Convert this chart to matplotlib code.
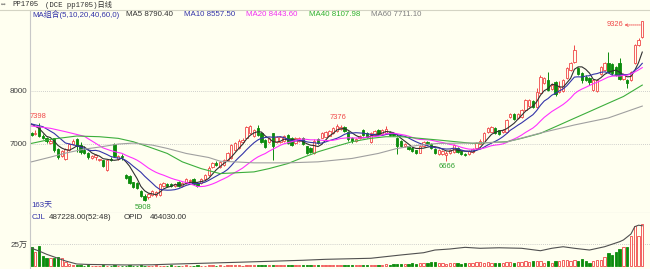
import numpy as np
import pandas as pd
import matplotlib
matplotlib.use("Agg")
import matplotlib.pyplot as plt
from matplotlib.lines import Line2D

plt.rcParams['font.family'] = ['Liberation Sans', 'Noto Sans CJK SC', 'DejaVu Sans']

# daily OHLC, pp1705
open_ = [7200, 7180, 7310, 7150, 7100, 7020, 7100, 6900, 6760, 6720,
         6880, 6990, 7080, 6980, 6880, 6830, 6730, 6740, 6690, 6690,
         6510, 6720, 6990, 6720, 6770, 6400, 6390, 6270, 6260, 6110,
         6020, 5990, 6030, 6030, 6030, 6200, 6240, 6230, 6200, 6270,
         6200, 6250, 6290, 6340, 6250, 6250, 6330, 6400, 6560, 6640,
         6560, 6600, 6690, 6730, 6890, 6920, 7030, 7110, 7200, 7150,
         7300, 7200, 7070, 7040, 7200, 7030, 7040, 7060, 7160, 7100,
         7020, 7060, 7100, 6950, 6920, 6830, 7080, 7110, 7130, 7150,
         7200, 7240, 7280, 7310, 7230, 7100, 7060, 7100, 7250, 7200,
         7040, 7160, 7260, 7180, 7210, 7230, 7200, 7100, 7060, 6960,
         6950, 6920, 6880, 6830, 6960, 7040, 7000, 6900, 6800, 6800,
         6790, 6820, 6850, 6920, 6860, 6810, 6810, 6840, 6920, 7000,
         7030, 7220, 7230, 7290, 7250, 7220, 7220, 7500, 7560, 7490,
         7510, 7640, 7720, 7800, 7700, 7960, 8150, 8200, 8030, 8170,
         7980, 7990, 8250, 8400, 8550, 8430, 8340, 8270, 8240, 8020,
         7990, 8310, 8400, 8530, 8500, 8450, 8520, 8230, 8200, 8210,
         8530, 8870, 9010]
close = [7170, 7210, 7150, 7110, 7050, 7060, 6880, 6740, 6860, 6900,
         7000, 7060, 6960, 6840, 6830, 6740, 6760, 6790, 6710, 6580,
         6690, 6690, 6760, 6760, 6740, 6360, 6260, 6180, 6160, 6010,
         5940, 6040, 6110, 6080, 6240, 6250, 6200, 6200, 6240, 6200,
         6250, 6340, 6320, 6230, 6200, 6340, 6400, 6550, 6640, 6600,
         6650, 6690, 6820, 6970, 7020, 7060, 7070, 7310, 7330, 7250,
         7170, 7040, 6940, 7100, 6950, 7120, 7120, 7140, 7020, 6980,
         7100, 7100, 6990, 6830, 6840, 7060, 7010, 7200, 7220, 7240,
         7300, 7330, 7320, 7240, 7080, 7060, 7090, 7150, 7170, 7120,
         7200, 7240, 7180, 7260, 7270, 7170, 7160, 6950, 6960, 7000,
         6900, 6860, 6830, 6960, 7030, 6990, 6920, 6820, 6880, 6870,
         6830, 6880, 6970, 6850, 6800, 6790, 6870, 6900, 7010, 7060,
         7200, 7300, 7310, 7200, 7190, 7260, 7450, 7560, 7470, 7560,
         7640, 7830, 7820, 7700, 7980, 8260, 8250, 8020, 8100, 7930,
         8080, 8210, 8430, 8530, 8780, 8310, 8210, 8200, 8170, 8200,
         8210, 8450, 8520, 8360, 8330, 8300, 8230, 8310, 8150, 8360,
         8870, 8960, 9320]
high = [7230, 7250, 7398, 7180, 7130, 7090, 7110, 6920, 6880, 6920,
        7020, 7080, 7110, 7030, 6950, 6850, 6780, 6800, 6720, 6700,
        6700, 6740, 7010, 6780, 6800, 6420, 6410, 6280, 6280, 6120,
        6040, 6060, 6130, 6100, 6260, 6280, 6260, 6250, 6260, 6290,
        6270, 6360, 6340, 6360, 6270, 6360, 6420, 6570, 6660, 6680,
        6670, 6710, 6840, 6990, 7040, 7080, 7100, 7330, 7350, 7280,
        7360, 7220, 7090, 7120, 7210, 7140, 7140, 7160, 7180, 7120,
        7120, 7130, 7120, 6960, 6940, 7080, 7100, 7220, 7240, 7260,
        7320, 7376, 7350, 7330, 7240, 7120, 7110, 7170, 7270, 7220,
        7220, 7250, 7280, 7280, 7340, 7240, 7220, 7120, 7070, 7020,
        6960, 6930, 6890, 6980, 7050, 7060, 7020, 6920, 6900, 6890,
        6860, 6900, 6990, 6940, 6870, 6830, 6890, 6920, 7030, 7080,
        7220, 7320, 7330, 7310, 7260, 7280, 7470, 7580, 7580, 7580,
        7660, 7850, 7840, 7820, 8060, 8300, 8270, 8350, 8150, 8190,
        8180, 8230, 8450, 8550, 8870, 8450, 8360, 8290, 8260, 8230,
        8230, 8470, 8540, 8740, 8520, 8470, 8620, 8330, 8220, 8380,
        8890, 8990, 9326]
low = [7150, 7160, 7130, 7080, 7020, 7000, 6850, 6720, 6740, 6690,
       6860, 6970, 6840, 6800, 6800, 6720, 6710, 6700, 6670, 6560,
       6490, 6680, 6740, 6700, 6700, 6340, 6240, 6160, 6140, 5990,
       5908, 5960, 6010, 6000, 6010, 6180, 6180, 6180, 6190, 6180,
       6190, 6240, 6280, 6210, 6180, 6240, 6310, 6390, 6540, 6580,
       6540, 6580, 6680, 6720, 6870, 6900, 7010, 7100, 7180, 7130,
       7150, 7020, 6920, 7020, 6690, 7010, 7020, 7040, 7000, 6960,
       7000, 7040, 6970, 6810, 6820, 6810, 6990, 7100, 7120, 7140,
       7190, 7230, 7260, 7220, 7060, 7020, 7040, 7090, 7150, 7100,
       7020, 7140, 7160, 7160, 7200, 7150, 7140, 6800, 6940, 6940,
       6880, 6840, 6810, 6820, 6940, 6980, 6900, 6800, 6780, 6780,
       6666, 6800, 6830, 6830, 6780, 6770, 6790, 6830, 6900, 6990,
       7010, 7200, 7220, 7180, 7170, 7200, 7210, 7480, 7450, 7470,
       7490, 7620, 7700, 7680, 7680, 7950, 8130, 7990, 8010, 7900,
       7960, 7970, 8230, 8380, 8530, 8290, 8150, 8180, 8100, 8000,
       7970, 8290, 8380, 8340, 8300, 8280, 8210, 8210, 8060, 8190,
       8510, 8850, 8990]

# volume (CJL), thousands
volume_k = [222, 158, 227, 115, 89, 95, 92, 105, 95, 50, 23, 15,
            8, 6, 5, 6, 4, 5, 4, 6, 5, 4, 6, 5, 4, 5, 6, 5, 4, 6, 5,
            5, 4, 6, 5, 4, 5, 6, 5, 4, 5, 6, 5, 4, 6, 5, 4, 6, 7, 5, 6,
            5, 6, 7, 8, 6, 5, 7, 8, 6, 7,
            7, 6, 8, 7, 6, 8, 7, 9, 8, 7, 8, 9, 7, 8, 10, 9, 8, 10, 9, 11,
            10, 12, 11, 10, 12, 13, 11, 12, 14, 13,
            14, 15, 16, 18, 17, 20, 22, 25, 20, 28, 30, 26, 35, 40, 38, 50,
            42, 35, 30, 28, 32, 36, 30, 28, 30, 34, 38, 45, 50, 40,
            42, 38, 35, 40, 36, 45, 48, 40, 44, 50, 58, 46, 52, 60,
            61, 35, 52, 35, 52, 52, 69, 69, 52, 69, 52, 81, 52, 35, 52, 69,
            69, 107, 153, 127, 158, 196, 215, 222, 349, 464, 349, 487]

# open interest (OPID), thousands, read at some days
oi_idx = [0, 2, 4, 7, 9, 12, 15, 25, 32, 36, 45, 54, 63, 72, 78, 90, 98, 104,
          107, 111, 115, 119, 124, 130, 135, 138, 141, 144, 148, 152, 156,
          157, 159, 160, 161, 162]
oi_k = [204, 173, 135, 89, 58, 23, 18, 12, 14, 20, 31, 42, 54, 66, 77, 89, 127,
        153, 184, 196, 215, 204, 210, 204, 176, 204, 222, 204, 184, 222, 280,
        300, 369, 453, 470, 464]

# moving average starts (before the window fills) and the slow averages
ma5_head_idx = [0, 2]
ma5_head = [7370, 7290]
ma10_head_idx = [0, 3, 6]
ma10_head = [7373, 7322, 7196]
ma20_head_idx = [0, 5, 9, 14]
ma20_head = [7335, 7291, 7227, 7140]
ma40_idx = [0, 5, 12, 18, 23, 27, 31, 36, 40, 45, 50, 59, 63, 68, 72, 76, 81,
            85, 90, 94, 98, 103, 108, 117, 126, 130, 135, 139, 144, 148, 153,
            157, 162]
ma40 = [7006, 7082, 7145, 7132, 7101, 7037, 6942, 6816, 6657, 6529, 6435,
        6467, 6529, 6625, 6739, 6847, 6955, 7037, 7101, 7132, 7132, 7101,
        7069, 7006, 7037, 7101, 7196, 7322, 7481, 7607, 7766, 7892, 8108]
ma60_idx = [0, 5, 9, 14, 18, 23, 27, 32, 36, 41, 47, 50, 59, 68, 76, 85, 92,
            97, 103, 108, 117, 126, 135, 144, 153, 162]
ma60 = [6657, 6746, 6822, 6898, 6936, 6993, 7012, 6974, 6911, 6816, 6739,
        6670, 6638, 6638, 6657, 6721, 6816, 6911, 6974, 7006, 7012, 7031,
        7202, 7354, 7487, 7711]

W, H = 650, 269
BG = '#fffff0'
RED = '#f04848'
GREEN = '#0c8c0c'
GRID = '#c0c0c0'


def fx(px):
    return px / W


def fy(py):
    return 1 - py / H


fig = plt.figure(figsize=(6.5, 2.69), dpi=100, facecolor=BG)
ax = fig.add_axes([fx(30), fy(213), (W - 30) / W, (213 - 10) / H])
vax = fig.add_axes([fx(30), 0, (W - 30) / W, (269 - 213) / H])

for a in (ax, vax):
    a.set_facecolor(BG)
    for s in a.spines.values():
        s.set_visible(False)
    a.spines['left'].set_visible(True)
    a.spines['left'].set_color('#c8c8c8')
    a.set_xlim(-0.4, 164.05)
    a.set_xticks([])
    a.tick_params(axis='y', length=0, labelsize=5.8, labelcolor='#404040', pad=2)
    a.grid(axis='y', ls=(0, (1, 1.5)), color=GRID, lw=0.6)
    a.set_axisbelow(True)
ax.spines['bottom'].set_visible(True)
ax.spines['bottom'].set_color('#c8c8c8')

o = np.array(open_)
c = np.array(close)
h = np.array(high)
l = np.array(low)
n = len(c)
idx = np.arange(n)
up = c >= o
lo = np.minimum(o, c)
hi = np.maximum(o, c)

# candles
ax.vlines(idx[up], hi[up], h[up], color=RED, lw=0.7)
ax.vlines(idx[up], l[up], lo[up], color=RED, lw=0.7)
ax.vlines(idx[~up], l[~up], h[~up], color=GREEN, lw=0.7)
ax.bar(idx[up], (hi - lo)[up], bottom=lo[up], width=0.62,
       facecolor=BG, edgecolor=RED, lw=0.6)
ax.bar(idx[~up], (hi - lo)[~up], bottom=lo[~up], width=0.62,
       facecolor=GREEN, edgecolor=GREEN, lw=0.6)

# moving averages
cs = pd.Series(c, dtype=float)
for win, hidx, hval, col in [(5, ma5_head_idx, ma5_head, '#303030'),
                             (10, ma10_head_idx, ma10_head, '#3434a8'),
                             (20, ma20_head_idx, ma20_head, '#ff30ff')]:
    m = cs.rolling(win).mean()
    xs = list(hidx) + list(idx[win - 1:])
    ys = list(hval) + list(m[win - 1:])
    ax.plot(xs, ys, color=col, lw=0.8, zorder=3)
ax.plot(ma40_idx, ma40, color='#3cae3c', lw=0.8, zorder=3)
ax.plot(ma60_idx, ma60, color='#a0a0a0', lw=0.8, zorder=3)

ax.set_ylim(5690, 9527)
ax.set_yticks([7000, 8000])

# high / low marks
ax.annotate('7398', xy=(2, h[2]), xytext=(-1, 2), textcoords='offset points',
            ha='center', va='bottom', color=RED, fontsize=5.4)
ax.annotate('7376', xy=(81, h[81]), xytext=(1, 2), textcoords='offset points',
            ha='center', va='bottom', color=RED, fontsize=5.4)
ax.annotate('5908', xy=(30, l[30]), xytext=(-1, -2), textcoords='offset points',
            ha='center', va='top', color='#30a030', fontsize=5.4)
ax.annotate('6666', xy=(110, l[110]), xytext=(1, -1), textcoords='offset points',
            ha='center', va='top', color='#30a030', fontsize=5.4)
ax.annotate('', xy=(157.3, 9244), xytext=(161.5, 9244),
            arrowprops=dict(arrowstyle='->', ls=(0, (1.5, 1)), color=RED, lw=0.6,
                            shrinkA=0, shrinkB=0, mutation_scale=5))
ax.text(156.9, 9244, '9326', ha='right', va='center', color=RED, fontsize=5.4)

# volume + open interest
vol = np.array(volume_k) * 1000.0
vax.bar(idx[up], vol[up], width=0.62, facecolor=BG, edgecolor=RED, lw=0.6)
vax.bar(idx[~up], vol[~up], width=0.62, facecolor=GREEN, edgecolor=GREEN, lw=0.6)
vax.plot(oi_idx, np.array(oi_k) * 1000.0, color='#505050', lw=0.8)
vax.set_ylim(-34560, 610560)
vax.set_yticks([250000])
vax.set_yticklabels(['25万'])

# header and labels
fig.add_artist(Line2D([0, 1], [fy(9.5), fy(9.5)], color='#d4d4c4', lw=0.8))
mono = ['Liberation Mono', 'Noto Sans CJK SC', 'DejaVu Sans']
fig.text(fx(1), fy(4.8), '⇔', fontsize=5.5, color='#404040', va='center', family=mono)
fig.text(fx(12), fy(4.8), 'PP1705', fontsize=5.2, color='#303030', va='center', family=mono)
fig.text(fx(45), fy(4.8), '(DCE pp1705)日线', fontsize=5.2, color='#303030',
         va='center', family=mono)

legend_items = [('MA组合(5,10,20,40,60,0)', 32, '#3434a8'),
                ('MA5 8790.40', 126, '#303030'),
                ('MA10 8557.50', 184, '#3434a8'),
                ('MA20 8443.60', 246, '#f030f0'),
                ('MA40 8107.98', 309, '#30b030'),
                ('MA60 7711.10', 371, '#808080')]
for txt, px, col in legend_items:
    fig.text(fx(px), fy(14.8), txt, fontsize=5.7, color=col, va='center')

fig.text(fx(31), fy(205), '163天', fontsize=5.7, color='#3434a8', va='center')
fig.text(fx(32), fy(217.5), 'CJL', fontsize=5.7, color='#3434a8', va='center')
fig.text(fx(49), fy(217.5), '487228.00(52:48)', fontsize=5.7, color='#303030', va='center')
fig.text(fx(124), fy(217.5), 'OPID', fontsize=5.7, color='#303030', va='center')
fig.text(fx(150), fy(217.5), '464030.00', fontsize=5.7, color='#303030', va='center')

fig.savefig('out.png', dpi=100, facecolor=BG)
